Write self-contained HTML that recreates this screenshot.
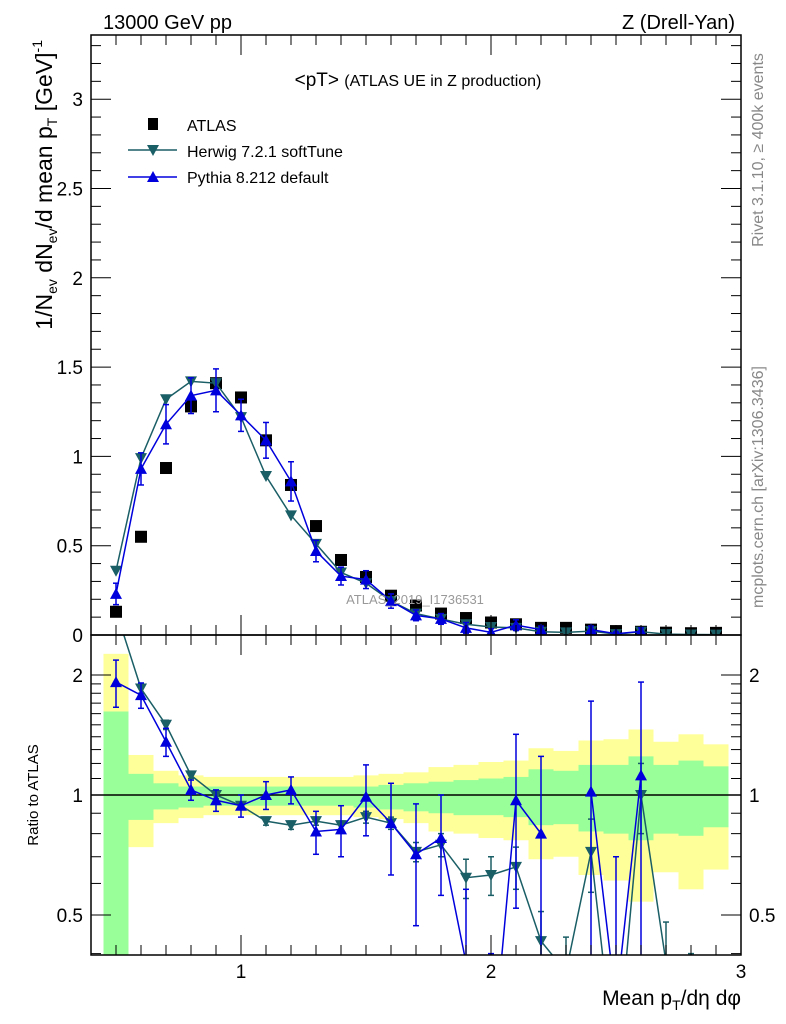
<!DOCTYPE html>
<html><head><meta charset="utf-8"><style>
html,body{margin:0;background:#fff;width:786px;height:1024px;overflow:hidden;position:relative}
svg{display:block;font-family:"Liberation Sans",sans-serif}
</style></head><body>
<svg id="c" width="786" height="1024" viewBox="0 0 786 1024" style="position:absolute;left:0;top:0" xmlns="http://www.w3.org/2000/svg"></svg>
<script>
const xs=[0.5,0.6,0.7,0.8,0.9,1.0,1.1,1.2,1.3,1.4,1.5,1.6,1.7,1.8,1.9,2.0,2.1,2.2,2.3,2.4,2.5,2.6,2.7,2.8,2.9];
const atlas=[0.13,0.55,0.935,1.28,1.41,1.33,1.09,0.84,0.61,0.42,0.325,0.22,0.165,0.12,0.095,0.07,0.06,0.04,0.04,0.03,0.022,0.018,0.013,0.01,0.012];
const herwig=[0.36,0.99,1.32,1.42,1.41,1.22,0.89,0.67,0.51,0.35,0.29,0.19,0.12,0.09,0.06,0.045,0.04,0.018,0.015,0.022,0.005,0.018,0.005,0.003,0.002];
const pythia=[0.23,0.93,1.18,1.34,1.37,1.23,1.09,0.86,0.47,0.33,0.31,0.19,0.11,0.09,0.04,0.015,0.055,0.03,null,0.03,0.007,0.02,null,null,null];
const pythiaErr=[0.06,0.09,0.11,0.1,0.12,0.09,0.1,0.11,0.06,0.05,0.05,0.04,0.03,0.03,0.03,0.02,0.03,0.02,0,0.02,0.01,0.02,0,0,0];
const herwigR=[2.9,1.85,1.5,1.12,1.0,0.94,0.86,0.84,0.86,0.84,0.88,0.85,0.72,0.75,0.62,0.63,0.66,0.43,0.36,0.72,0.2,1.0,0.38,0.3,null];
const herwigRErr=[0.05,0.05,0.04,0.02,0.02,0.02,0.02,0.02,0.02,0.02,0.03,0.03,0.04,0.05,0.07,0.07,0.08,0.08,0.08,0.15,0.1,0.2,0.1,0.1,0];
const pythiaR=[1.92,1.78,1.36,1.03,0.97,0.94,1.0,1.03,0.81,0.82,0.99,0.85,0.71,0.78,0.38,0.2,0.97,0.8,null,1.02,0.3,1.12,null,null,null];
const pythiaRErr=[0.26,0.13,0.11,0.06,0.06,0.06,0.08,0.08,0.1,0.12,0.2,0.22,0.24,0.22,0.2,0.2,0.45,0.45,0,0.7,0.4,0.8,0,0,0];
const yTop=[2.26,1.26,1.15,1.12,1.11,1.11,1.11,1.11,1.11,1.11,1.12,1.13,1.14,1.175,1.19,1.21,1.22,1.31,1.29,1.37,1.38,1.46,1.36,1.42,1.34];
const gTop=[1.62,1.13,1.07,1.05,1.05,1.05,1.05,1.05,1.05,1.05,1.05,1.06,1.07,1.08,1.09,1.10,1.11,1.16,1.15,1.19,1.19,1.25,1.19,1.22,1.18];
const gBot=[0.3,0.866,0.92,0.93,0.94,0.94,0.94,0.94,0.94,0.94,0.93,0.92,0.91,0.90,0.89,0.89,0.88,0.84,0.845,0.81,0.80,0.77,0.80,0.79,0.83];
const yBot=[0.3,0.74,0.85,0.875,0.89,0.89,0.89,0.89,0.89,0.89,0.88,0.87,0.85,0.81,0.80,0.78,0.77,0.69,0.70,0.63,0.61,0.54,0.64,0.58,0.65];
const mainTicks=[0,0.5,1,1.5,2,2.5,3];
const mainTickLabels=["0","0.5","1","1.5","2","2.5","3"];
const ratioTicks=[0.5,1,2];
const ratioTickLabels=["0.5","1","2"];
const xTicks=[1,2,3];
const xTickLabels=["1","2","3"];

const L=91,R=741,T1=35,B1=635,B2=955;
const X=v=>L+(v-0.4)*250;
const Y=v=>B1-v*178.6;
const YR=v=>795-Math.log10(v)*398.6;
const NS="http://www.w3.org/2000/svg";
const svg=document.getElementById('c');
function mk(t,a,p){const e=document.createElementNS(NS,t);for(const k in a)e.setAttribute(k,a[k]);(p||svg).appendChild(e);return e;}
const defs=mk('defs',{});
const c1=document.createElementNS(NS,'clipPath');c1.setAttribute('id','cm');defs.appendChild(c1);mk('rect',{x:L,y:T1,width:R-L,height:B1-T1},c1);
const c2=document.createElementNS(NS,'clipPath');c2.setAttribute('id','cr');defs.appendChild(c2);mk('rect',{x:L,y:B1,width:R-L,height:B2-B1},c2);

const gb=mk('g',{'clip-path':'url(#cr)'});

xs.forEach((x,i)=>{
  const x0=X(x-0.05),w=25;
  const r1=mk('rect',{x:x0,y:YR(yTop[i]),width:w,height:YR(yBot[i])-YR(yTop[i]),fill:'#ffff99'},gb);
  
  
  const r2=mk('rect',{x:x0,y:YR(gTop[i]),width:w,height:YR(gBot[i])-YR(gTop[i]),fill:'#99ff99'},gb);
  
  
});
mk('line',{x1:L,x2:R,y1:YR(1),y2:YR(1),stroke:'#000','stroke-width':1.5});

function series(vals,errs,yf,color,down,clipId,name){
  const g=mk('g',{'clip-path':'url(#'+clipId+')'});
  
  
  let d='';let pen=false;
  xs.forEach((x,i)=>{const v=vals[i];if(v==null||v<=0){pen=false;return;}d+=(pen?'L':'M')+X(x)+','+yf(v);pen=true;});
  mk('path',{d:d,fill:'none',stroke:color,'stroke-width':1.5},g);
  xs.forEach((x,i)=>{const v=vals[i];if(v==null||v<=0)return;
    const cx=X(x),cy=yf(v);
    if(errs&&errs[i]>0){const lo=Math.max(v-errs[i],0.01),hi=v+errs[i];
      mk('line',{x1:cx,x2:cx,y1:yf(lo),y2:yf(hi),stroke:color,'stroke-width':1.5},g);
      mk('line',{x1:cx-3,x2:cx+3,y1:yf(lo),y2:yf(lo),stroke:color,'stroke-width':1.5},g);
      mk('line',{x1:cx-3,x2:cx+3,y1:yf(hi),y2:yf(hi),stroke:color,'stroke-width':1.5},g);}
    const p=down?`${cx-6},${cy-5} ${cx+6},${cy-5} ${cx},${cy+6}`:`${cx-6},${cy+5} ${cx+6},${cy+5} ${cx},${cy-6}`;
    const m=mk('polygon',{points:p,fill:color},g);
    
    
  });
}
const ga=mk('g',{'clip-path':'url(#cm)'});


xs.forEach((x,i)=>{const s=mk('rect',{x:X(x)-6,y:Y(atlas[i])-6,width:12,height:12,fill:'#000'},ga);
  
  });
series(herwig,null,Y,'#1a5e66',true,'cm','herwig-series');
series(pythia,pythiaErr,Y,'#0000dd',false,'cm','pythia-series');
series(herwigR,herwigRErr,YR,'#1a5e66',true,'cr','herwig-ratio');
series(pythiaR,pythiaRErr,YR,'#0000dd',false,'cr','pythia-ratio');

mk('rect',{x:L,y:T1,width:R-L,height:B1-T1,fill:'none',stroke:'#000','stroke-width':1.5});
mk('rect',{x:L,y:B1,width:R-L,height:B2-B1,fill:'none',stroke:'#000','stroke-width':1.5});
for(let k=5;k<=29;k++){const v=k/10,x=X(v),maj=(k%10==0),len=maj?20:10;
  [[T1,1],[B1,-1],[B1,1],[B2,-1]].forEach(([y,s])=>mk('line',{x1:x,x2:x,y1:y,y2:y+s*len,stroke:'#000','stroke-width':1}));}
for(let k=0;k<=33;k++){const v=k/10,y=Y(v),maj=(k%5==0),len=maj?20:10;
  mk('line',{x1:L,x2:L+len,y1:y,y2:y,stroke:'#000'});mk('line',{x1:R,x2:R-len,y1:y,y2:y,stroke:'#000'});}
mainTicks.forEach((v,i)=>{const t=mk('text',{x:L-8,y:Y(v)+7,'text-anchor':'end','font-size':19});t.textContent=mainTickLabels[i];
  });
[0.4,0.5,0.6,0.7,0.8,0.9,1,2].forEach(v=>{const y=YR(v),maj=(v==0.5||v==1||v==2),len=maj?20:10;
  mk('line',{x1:L,x2:L+len,y1:y,y2:y,stroke:'#000'});mk('line',{x1:R,x2:R-len,y1:y,y2:y,stroke:'#000'});});
[1.1,1.2,1.3,1.4,1.5,1.6,1.7,1.8,1.9].forEach(v=>{const y=YR(v);mk('line',{x1:L,x2:L+10,y1:y,y2:y,stroke:'#000'});mk('line',{x1:R,x2:R-10,y1:y,y2:y,stroke:'#000'});});
ratioTicks.forEach((v,i)=>{
  const t=mk('text',{x:L-8,y:YR(v)+7,'text-anchor':'end','font-size':19});t.textContent=ratioTickLabels[i];
  
  const t2=mk('text',{x:R+8,y:YR(v)+7,'text-anchor':'start','font-size':19});t2.textContent=ratioTickLabels[i];
  });
xTicks.forEach((v,i)=>{const t=mk('text',{x:X(v),y:978,'text-anchor':'middle','font-size':19});t.textContent=xTickLabels[i];
  });
</script>
<svg width="786" height="1024" style="position:absolute;left:0;top:0" xmlns="http://www.w3.org/2000/svg">
<text x="103" y="29" font-size="20">13000 GeV pp</text>
<text x="735" y="29" font-size="20" text-anchor="end">Z (Drell-Yan)</text>
<text x="418" y="86" font-size="19" text-anchor="middle">&lt;pT&gt; <tspan font-size="16">(ATLAS UE in Z production)</tspan></text>
<g>
<rect x="148" y="118" width="10" height="12" fill="#000"/>
<text x="187" y="131" font-size="16">ATLAS</text>
<line x1="128" x2="177" y1="150" y2="150" stroke="#1a5e66" stroke-width="1.5"/>
<polygon points="147,145 159,145 153,156" fill="#1a5e66"/>
<text x="187" y="157" font-size="16">Herwig 7.2.1 softTune</text>
<line x1="128" x2="177" y1="177" y2="177" stroke="#0000dd" stroke-width="1.5"/>
<polygon points="147,182 159,182 153,171" fill="#0000dd"/>
<text x="187" y="183" font-size="16">Pythia 8.212 default</text>
</g>
<text x="415" y="604" font-size="13" fill="#999" text-anchor="middle">ATLAS_2019_I1736531</text>
<text transform="translate(52,40) rotate(-90)" font-size="23" text-anchor="end">1/N<tspan font-size="14" dy="5">ev</tspan><tspan dy="-5"> dN</tspan><tspan font-size="14" dy="5">ev</tspan><tspan dy="-5">/d mean p</tspan><tspan font-size="14" dy="5">T</tspan><tspan dy="-5"> [GeV]</tspan><tspan font-size="14" dy="-10">-1</tspan></text>
<text transform="translate(38,795) rotate(-90)" font-size="15" text-anchor="middle">Ratio to ATLAS</text>
<text x="741" y="1005" font-size="21" text-anchor="end">Mean p<tspan font-size="14" dy="5">T</tspan><tspan dy="-5">/dη dφ</tspan></text>
<text transform="translate(763,150) rotate(-90)" font-size="16" fill="#888" text-anchor="middle">Rivet 3.1.10, ≥ 400k events</text>
<text transform="translate(763,487) rotate(-90)" font-size="16" fill="#888" text-anchor="middle">mcplots.cern.ch [arXiv:1306.3436]</text>
</svg>
</body></html>
